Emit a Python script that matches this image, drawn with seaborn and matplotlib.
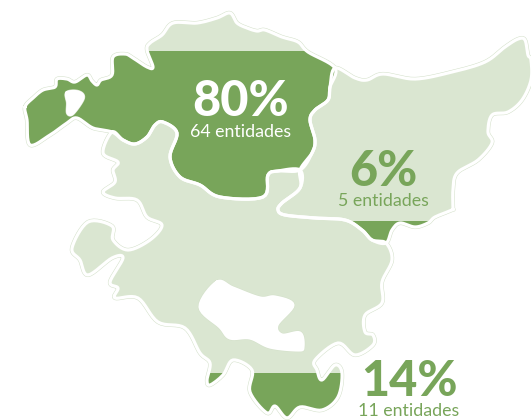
import numpy as np
import pandas as pd
import matplotlib
matplotlib.use("Agg")
import matplotlib.pyplot as plt
from matplotlib.patches import Rectangle
import seaborn as sns

# Shared outlines (image pixels)
bizkaia_north_x = [25,33,43,55,57,67,75,87,92,97,101,112,113,125,133,147,153,147,150,162,173,197,217,230,237,247,257,265,282,298,308,335]
bizkaia_north_y = [107,98,90,87,79,79,82,75,81,85,80,75,57,54,58,67,67,50,43,35,23,23,18,13,23,28,31,30,37,42,52,68]
biz_gip_x = [335,330,328,315,310,315,312,300]
biz_gip_y = [68,87,100,110,120,140,153,170]
biz_ala_x = [300,278,268,263,220,200,180,170,177,163,155,147,135,123,112]
biz_ala_y = [170,171,175,197,197,185,177,157,133,122,125,137,144,140,132]
bizkaia_west_x = [93,77,67,50,30,27]
bizkaia_west_y = [128,118,123,135,145,120]
gip_coast_x = [355,367,383,415,452,485,505,518,525,528,531,531,522,508,492,488,492,478,457,453,453,452,435,428,415,400,392,386]
gip_coast_y = [78,80,74,79,72,62,47,39,40,55,60,80,100,112,115,132,143,160,173,190,208,210,217,223,227,223,230,243]
gip_ala_x = [372,362,345,315,285,278,282,300,300]
gip_ala_y = [240,230,220,218,215,210,203,188,170]
alava_south_x = [392,382,382,365,365,373,373,355,338,315,317,322,335,342,338,322,300,287,275,267,250,252,233,223,210,207,210,200,185,158,138,115,118,110,123,112,88,80,72,88,112,113,128,150,162,147,137,115,103,115,113,118,103,112]
alava_south_y = [260,282,303,315,332,335,345,355,343,360,370,380,365,373,397,410,407,418,406,413,392,370,360,375,385,380,363,353,328,322,298,298,288,282,258,258,275,260,248,222,226,240,250,240,225,217,200,198,192,182,170,162,153,132]
hole_biz_x = [67,78,83,73,68,68]
hole_biz_y = [93,92,98,113,113,103]
hole_ala_x = [217,200,220,230,250,270,298,303,300,282,277,293,275,260,233]
hole_ala_y = [282,307,327,338,338,347,350,347,333,335,325,305,297,298,288]

# Filled share of each province: level where the dark fill begins
level_bizkaia = 51
level_gipuzkoa = 221
level_alava = 373
labels_pct = ["80%", "6%", "14%"]
labels_n = ["64 entidades", "5 entidades", "11 entidades"]

LIGHT = "#DAE6D1"
DARK = "#78A55A"
HALO = "#D3E0C9"

sns.set_theme(style="white")
plt.rcParams["font.family"] = ["Lato", "DejaVu Sans"]

fig = plt.figure(figsize=(5.31, 4.2), dpi=100)
ax = fig.add_axes([0, 0, 1, 1])


def smooth(x, y, steps=8):
    """Closed Catmull-Rom curve through the outline's points, so the coast is not angular."""
    p = np.column_stack([x, y]).astype(float)
    keep = np.r_[True, np.any(np.diff(p, axis=0) != 0, axis=1)]
    p = p[keep]
    n = len(p)
    t = np.linspace(0, 1, steps, endpoint=False)[:, None]
    out = []
    for i in range(n):
        a, b, c, d = p[i - 1], p[i], p[(i + 1) % n], p[(i + 2) % n]
        out.append(0.5 * (2 * b + (c - a) * t + (2 * a - 5 * b + 4 * c - d) * t ** 2 + (3 * b - a - 3 * c + d) * t ** 3))
    out = np.vstack(out)
    return out[:, 0], out[:, 1]


biz = smooth(bizkaia_north_x + biz_gip_x[1:] + biz_ala_x[1:] + bizkaia_west_x, bizkaia_north_y + biz_gip_y[1:] + biz_ala_y[1:] + bizkaia_west_y)
gip = smooth([335] + gip_coast_x + gip_ala_x + biz_gip_x[::-1][1:-1], [68] + gip_coast_y + gip_ala_y + biz_gip_y[::-1][1:-1])
ala = smooth(biz_ala_x[::-1] + gip_ala_x[::-1][1:] + [386] + alava_south_x[:-1], biz_ala_y[::-1] + gip_ala_y[::-1][1:] + [243] + alava_south_y[:-1])
provinces = [(biz, level_bizkaia), (gip, level_gipuzkoa), (ala, level_alava)]
holes = [smooth(hole_biz_x, hole_biz_y), smooth(hole_ala_x, hole_ala_y)]


def outline(curve, color, lw, z):
    x, y = curve
    frame = pd.DataFrame({"x": np.r_[x, x[0]], "y": np.r_[y, y[0]]})
    sns.lineplot(data=frame, x="x", y="y", estimator=None, sort=False, ax=ax, color=color,
                 linewidth=lw, zorder=z, solid_joinstyle="round", legend=False)


for curve, level in provinces:
    outline(curve, HALO, 3.0, 1)
for curve, level in provinces:
    ax.fill(*curve, color=LIGHT, lw=0, zorder=2)
    clip = Rectangle((0, level), 531, 420 - level, transform=ax.transData)
    for patch in ax.fill(*curve, color=DARK, lw=0, zorder=3):
        patch.set_clip_path(clip)
for curve, level in provinces:
    outline(curve, "white", 2.3, 4)
for curve in holes:
    ax.fill(*curve, color="white", lw=0, zorder=5)
    outline(curve, HALO, 3.0, 4)
    outline(curve, "white", 2.3, 5)

ax.set_xlim(0, 531)
ax.set_ylim(420, 0)
ax.set_xlabel("")
ax.set_ylabel("")
ax.axis("off")

pct_pos = [(241, 101), (383, 172), (409, 382)]
n_pos = [(241, 132), (383, 201), (409, 411)]
colors = ["white", DARK, DARK]
for s, p, c in zip(labels_pct, pct_pos, colors):
    ax.text(p[0], p[1], s, color=c, fontsize=35, fontweight=900, ha="center", va="center", zorder=6)
for s, p, c in zip(labels_n, n_pos, colors):
    ax.text(p[0], p[1], s, color=c, fontsize=12.8, fontweight="normal", ha="center", va="center", zorder=6)

fig.savefig("out.png", dpi=100, facecolor="white")
